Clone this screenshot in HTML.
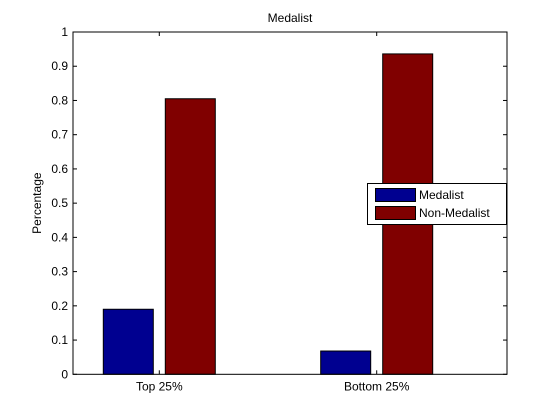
<!DOCTYPE html>
<html><head><meta charset="utf-8"><style>
body{margin:0;background:#fff}
svg{display:block;font-family:"Liberation Sans",Arial,sans-serif}
</style></head><body>
<svg id="chart" width="560" height="420" viewBox="0 0 560 420">
<rect x="0" y="0" width="560" height="420" fill="#fff"/>
<g id="g"></g>
</svg>
<script>
const categories = ["Top 25%", "Bottom 25%"];
const medalist = [0.19, 0.068];
const nonMedalist = [0.805, 0.936];
const yTicks = [0,0.1,0.2,0.3,0.4,0.5,0.6,0.7,0.8,0.9,1];
const yTickLabels = ["0","0.1","0.2","0.3","0.4","0.5","0.6","0.7","0.8","0.9","1"];

const L=73,R=507,T=32,B=374.3;
const y = v => B - v*(B-T);
const xCenter = i => 159.3 + i*217.4;
const NS="http://www.w3.org/2000/svg";
const g=document.getElementById('g');
function mk(tag,attrs,parent){const e=document.createElementNS(NS,tag);for(const k in attrs)e.setAttribute(k,attrs[k]);(parent||g).appendChild(e);return e;}

const ax=mk('rect',{x:L,y:T,width:R-L,height:B-T,fill:'#fff',stroke:'none'});



const bw=50;
categories.forEach((c,i)=>{
  const cx=xCenter(i);
  const b1=mk('rect',{x:cx-31-bw/2,y:y(medalist[i]),width:bw,height:B-y(medalist[i]),fill:'#000090',stroke:'#000','stroke-width':1});
  
  
  const b2=mk('rect',{x:cx+31-bw/2,y:y(nonMedalist[i]),width:bw,height:B-y(nonMedalist[i]),fill:'#800000',stroke:'#000','stroke-width':1});
  
  
  mk('line',{x1:cx,x2:cx,y1:B,y2:B-4,stroke:'#000'});
  mk('line',{x1:cx,x2:cx,y1:T,y2:T+4,stroke:'#000'});
  const t=mk('text',{x:cx,y:B+16,'text-anchor':'middle','font-size':12});
  t.textContent=c;
  
  
});

yTicks.forEach((v,i)=>{
  const yy=y(v);
  mk('line',{x1:L,x2:L+4,y1:yy,y2:yy,stroke:'#000'});
  mk('line',{x1:R,x2:R-4,y1:yy,y2:yy,stroke:'#000'});
  const t=mk('text',{x:L-5,y:yy+4,'text-anchor':'end','font-size':12});
  t.textContent=yTickLabels[i];
  
  
});

const frame=mk('rect',{x:L,y:T,width:R-L,height:B-T,fill:'none',stroke:'#000','stroke-width':1});



const title=mk('text',{x:(L+R)/2,y:22,'text-anchor':'middle','font-size':12});
title.textContent='Medalist';



const yl=mk('text',{x:0,y:0,'text-anchor':'middle','font-size':12,transform:'translate(41,'+((T+B)/2)+') rotate(-90)'});
yl.textContent='Percentage';



const lg=mk('g',{});


mk('rect',{x:367.5,y:183.5,width:139,height:41,fill:'#fff',stroke:'#000'},lg);
const sw1=mk('rect',{x:375.5,y:188.5,width:40,height:13,fill:'#000090',stroke:'#000'},lg);


const sw2=mk('rect',{x:375.5,y:206.5,width:40,height:13,fill:'#800000',stroke:'#000'},lg);


const l1=mk('text',{x:419,y:199,'font-size':12},lg);
l1.textContent='Medalist';


const l2=mk('text',{x:419,y:217,'font-size':12},lg);
l2.textContent='Non-Medalist';


</script>
</body></html>
